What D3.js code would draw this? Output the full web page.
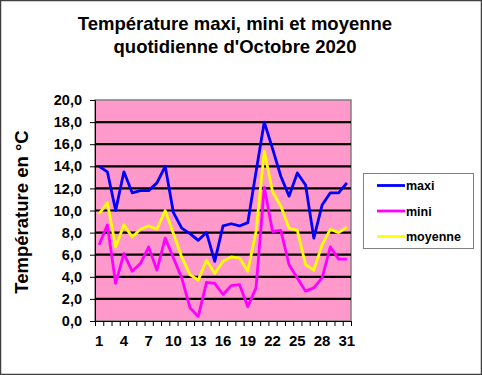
<!DOCTYPE html>
<html>
<head>
<meta charset="utf-8"/>
<title>Température Octobre 2020</title>
<script src="https://cdn.jsdelivr.net/npm/d3@7"></script>
<style>
  body { margin: 0; background: #fff; }
  text { font-family: Arial, "Liberation Sans", sans-serif; font-weight: bold; }
</style>
</head>
<body>
<div id="chart"></div>
<script>
// days of October
var days = d3.range(1, 32);
var maxi = [14.0, 13.5, 10.0, 13.5, 11.6, 11.8, 11.8, 12.5, 14.0, 9.8, 8.4, 7.9, 7.3, 8.0, 5.4, 8.6,
            8.8, 8.6, 8.9, 13.5, 18.0, 15.6, 13.1, 11.3, 13.4, 12.3, 7.5, 10.5, 11.6, 11.6, 12.5];
var mini = [6.9, 8.7, 3.4, 6.1, 4.5, 5.2, 6.7, 4.6, 7.5, 5.7, 3.9, 1.2, 0.4, 3.5, 3.4, 2.4,
            3.2, 3.3, 1.3, 3.0, 12.1, 8.1, 8.2, 5.1, 3.9, 2.7, 3.0, 3.9, 6.7, 5.6, 5.6];
var moyenne = [9.7, 10.7, 6.7, 8.7, 7.6, 8.3, 8.6, 8.3, 10.0, 7.9, 5.8, 4.2, 3.7, 5.5, 4.3, 5.4,
               5.8, 5.7, 4.5, 8.1, 15.4, 11.7, 10.4, 8.4, 8.2, 5.1, 4.6, 6.9, 8.3, 8.0, 8.5];
var seriesNames = ["maxi", "mini", "moyenne"];
var seriesColors = ["#0000ff", "#ff00ff", "#ffff00"];
var yTicks = d3.range(0, 21, 2);
var xLabels = [1, 4, 7, 10, 13, 16, 19, 22, 25, 28, 31];

var W = 482, H = 375;
var svg = d3.select("#chart").append("svg")
    .attr("width", W)
    .attr("height", H);

// outer frame
svg.append("rect")
    .attr("x", 0.5).attr("y", 0.5)
    .attr("width", W - 1).attr("height", H - 1)
    .attr("fill", "#fff")
    .attr("stroke", "#404040")
    .attr("stroke-width", 1.5);

var pLeft = 95, pRight = 351, pTop = 100, pBottom = 321;

var x = d3.scaleBand().domain(days).range([pLeft, pRight]);
var y = d3.scaleLinear().domain([0, 20]).range([pBottom, pTop]);

// plot background
svg.append("rect")
    .attr("x", pLeft).attr("y", pTop)
    .attr("width", pRight - pLeft).attr("height", pBottom - pTop)
    .attr("fill", "#ff99cc")
    .attr("stroke", "#808080")
    .attr("stroke-width", 1.5);

// gridlines
svg.append("g").selectAll("line")
    .data(yTicks.filter(function(d) { return d > 0 && d < 20; }))
    .enter().append("line")
    .attr("x1", pLeft).attr("x2", pRight)
    .attr("y1", function(d) { return y(d); })
    .attr("y2", function(d) { return y(d); })
    .attr("stroke", "#000")
    .attr("stroke-width", 2.2);

// y axis
var yAxis = d3.axisLeft(y)
    .tickValues(yTicks)
    .tickSize(5)
    .tickFormat(function(d) { return d3.format(".1f")(d).replace(".", ","); });
var gy = svg.append("g")
    .attr("transform", "translate(" + pLeft + ",0)")
    .call(yAxis);
gy.select(".domain").attr("stroke", "#000");
gy.selectAll("text")
    .attr("font-size", 14.5)
    .attr("fill", "#000")
    .attr("x", -13);

// x axis: tick at every category border, labels every third day
var xAxisG = svg.append("g");
xAxisG.append("line")
    .attr("x1", pLeft).attr("x2", pRight)
    .attr("y1", pBottom + 0.5).attr("y2", pBottom + 0.5)
    .attr("stroke", "#000");
var borders = days.map(function(d) { return x(d); }).concat([pRight]);
xAxisG.selectAll("line.tk")
    .data(borders)
    .enter().append("line")
    .attr("class", "tk")
    .attr("x1", function(d) { return d + 0.5; })
    .attr("x2", function(d) { return d + 0.5; })
    .attr("y1", pBottom).attr("y2", pBottom + 5)
    .attr("stroke", "#000");
xAxisG.selectAll("text")
    .data(xLabels)
    .enter().append("text")
    .attr("x", function(d) { return x(d) + x.bandwidth() / 2; })
    .attr("y", 346)
    .attr("text-anchor", "middle")
    .attr("font-size", 15)
    .text(function(d) { return d; });

// lines
var line = d3.line()
    .x(function(d, i) { return x(days[i]) + x.bandwidth() / 2; })
    .y(function(d) { return y(d); });
[maxi, mini, moyenne].forEach(function(s, i) {
    svg.append("path")
        .datum(s)
        .attr("d", line)
        .attr("fill", "none")
        .attr("stroke", seriesColors[i])
        .attr("stroke-width", 2.8)
        .attr("stroke-linejoin", "round");
});

// title
var title = svg.append("text")
    .attr("text-anchor", "middle")
    .attr("font-size", 18.5);
title.append("tspan").attr("x", 235).attr("y", 30).text("Température maxi, mini et moyenne");
title.append("tspan").attr("x", 235).attr("y", 53).text("quotidienne d'Octobre 2020");

// y title
svg.append("text")
    .attr("transform", "translate(28,212) rotate(-90)")
    .attr("text-anchor", "middle")
    .attr("font-size", 18.5)
    .text("Température en °C");

// legend
var lg = svg.append("g");
lg.append("rect")
    .attr("x", 363.5).attr("y", 173.5)
    .attr("width", 110).attr("height", 75)
    .attr("fill", "#fff")
    .attr("stroke", "#808080");
seriesNames.forEach(function(n, i) {
    var ly = 185.5 + i * 25.5;
    lg.append("line")
        .attr("x1", 377).attr("x2", 405)
        .attr("y1", ly).attr("y2", ly)
        .attr("stroke", seriesColors[i])
        .attr("stroke-width", 2.8);
    lg.append("text")
        .attr("x", 406).attr("y", ly + 4.5)
        .attr("font-size", 12.5)
        .text(n);
});
</script>
</body>
</html>
